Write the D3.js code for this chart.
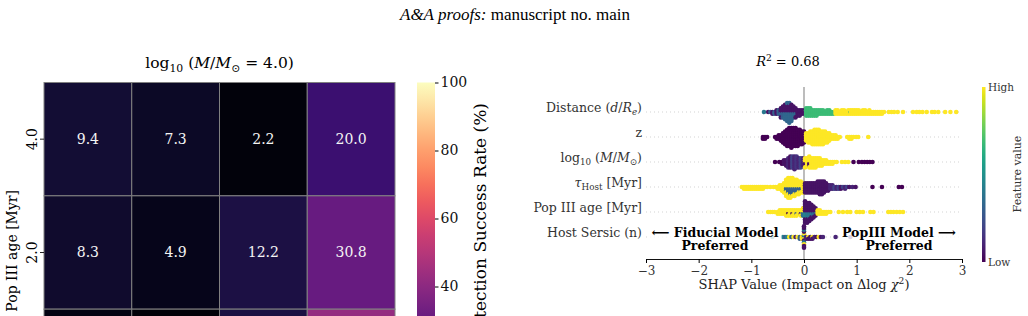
<!DOCTYPE html>
<html><head><meta charset="utf-8">
<script src="https://cdn.jsdelivr.net/npm/d3@7"></script>
<style>
body{margin:0;background:#fff}
svg{display:block;font-family:"DejaVu Serif",serif}
</style></head><body>
<svg width="1028" height="316"></svg>
<script>
// ---- left panel: detection success rate (%) ----
const popAges = ["4.0", "2.0", "1.0"];
const massCols = [0, 1, 2, 3];
const successRate = [
  [9.4, 7.3, 2.2, 20.0],
  [8.3, 4.9, 12.2, 30.8],
  [3.5, 1.2, 11.8, 42.0]
];
const rateTicks = [40, 60, 80, 100];

// ---- right panel: shap beeswarm, [shap value, n points, feature value 0..1] ----
const distPts = [
  [-0.76,1,0.4],[-0.68,1,0.05],[-0.64,1,0.3],[-0.60,2,0.05],[-0.56,2,0.3],[-0.52,3,0.05],[-0.48,3,0.3],
  [-0.44,4,0.05],[-0.44,2,0.3],[-0.40,4,0.05],[-0.40,3,0.3],[-0.36,5,0.05],[-0.36,4,0.33],
  [-0.32,5,0.05],[-0.32,6,0.33],[-0.28,5,0.05],[-0.28,7,0.33],[-0.24,5,0.05],[-0.24,5,0.33],
  [-0.20,4,0.05],[-0.20,3,0.33],[-0.16,4,0.05],[-0.16,2,0.33],[-0.12,4,0.05],[-0.08,4,0.05],
  [-0.04,3,0.05],[0.0,3,0.05],
  [0.04,5,0.68],[0.08,5,0.68],[0.12,5,0.68],[0.16,4,0.68],[0.20,4,0.68],[0.24,4,0.68],[0.28,3,0.68],
  [0.32,3,0.68],[0.36,3,0.68],[0.40,2,0.68],[0.44,3,0.68],[0.48,3,0.68],[0.52,2,0.68],[0.56,2,0.68],
  [0.60,3,1],[0.64,3,1],[0.68,2,1],[0.72,3,1],[0.76,3,1],[0.80,2,1],[0.84,3,1],[0.88,1,0.55],[0.88,2,1],
  [0.92,3,1],[0.96,3,1],[1.00,3,1],[1.04,3,1],[1.08,2,1],[1.12,3,1],[1.16,3,1],[1.20,2,1],[1.24,3,1],
  [1.28,2,1],[1.32,2,1],[1.36,2,1],[1.40,2,1],[1.44,2,1],[1.48,2,1],[1.52,1,1],
  [1.61,1,1],[1.66,1,1],[1.71,1,1],[1.78,1,1],[1.88,1,1],[2.07,1,1],[2.14,1,1],[2.19,1,1],[2.25,1,1],
  [2.33,1,1],[2.43,1,1],[2.48,1,1],[2.55,1,1],[2.68,1,1],[2.78,1,1],[2.89,1,1]
];
const zPts = [
  [-0.78,2,0],[-0.74,2,0],[-0.70,1,0],
  [-0.55,1,0],[-0.52,2,0],[-0.48,3,0],[-0.44,4,0],[-0.40,6,0],[-0.36,8,0],[-0.32,10,0],[-0.28,11,0],
  [-0.24,12,0],[-0.20,11,0],[-0.16,11,0],[-0.12,10,0],[-0.08,9,0],[-0.04,8,0],[0.0,7,0],
  [0.04,5,1],[0.08,6,1],[0.12,7,1],[0.16,8,1],[0.20,9,1],[0.24,9,1],[0.28,9,1],[0.32,8,1],[0.36,8,1],
  [0.40,7,1],[0.44,6,1],[0.48,5,1],[0.52,3,1],[0.56,3,1],[0.60,3,1],[0.64,2,1],[0.68,1,1],
  [0.82,1,1],[0.86,2,1],[0.90,2,1],[0.94,1,1],[0.99,1,1],[1.03,1,1],[1.22,1,1]
];
const massPts = [
  [-0.55,1,0],[-0.47,1,0],[-0.42,2,0],[-0.38,3,0.05],[-0.34,4,0.05],[-0.30,6,0.1],[-0.26,7,0.05],
  [-0.22,7,0.2],[-0.18,8,0.1],[-0.14,7,0.15],[-0.10,6,0.1],[-0.06,6,0.2],[-0.02,5,0.1],
  [0.02,4,1],[0.02,2,0.05],[0.06,5,1],[0.10,5,1],[0.10,2,0.05],[0.14,6,1],[0.18,6,1],[0.22,6,1],
  [0.26,5,1],[0.30,5,1],[0.34,4,1],[0.38,3,1],[0.42,3,1],[0.46,2,1],[0.50,2,1],[0.54,2,1],[0.58,1,1],
  [0.62,1,1],[0.72,1,1],[0.78,1,1],[0.84,1,1],
  [0.94,1,0],[1.04,1,0],[1.10,1,0],[1.15,1,0],[1.20,1,0],[1.25,1,0],[1.30,1,0]
];
const tauPts = [
  [-1.18,1,1],[-1.14,2,1],[-1.10,2,1],[-1.06,2,1],[-1.02,2,1],[-0.98,2,1],[-0.94,2,1],[-0.90,2,1],
  [-0.86,2,1],[-0.82,2,1],[-0.78,2,1],[-0.74,1,1],[-0.70,1,1],[-0.64,1,1],[-0.58,1,1],[-0.54,1,1],
  [-0.50,2,1],[-0.46,3,1],[-0.42,4,1],[-0.38,6,1],[-0.34,8,1],[-0.34,2,0.3],[-0.30,9,1],[-0.30,3,0.3],
  [-0.26,8,1],[-0.26,4,0.3],[-0.22,7,1],[-0.22,4,0.3],[-0.18,7,1],[-0.18,3,0.3],[-0.14,6,1],
  [-0.14,3,0.3],[-0.10,6,1],[-0.10,2,0.3],[-0.06,5,1],[-0.06,2,0.3],[-0.02,6,1],
  [0.02,6,0.05],[0.06,6,0.05],[0.10,6,0.05],[0.14,6,0.05],[0.18,6,0.05],[0.22,6,0.05],[0.26,7,0.05],
  [0.30,8,0.05],[0.34,8,0.05],[0.38,7,0.05],[0.42,5,0.05],[0.46,4,0.05],[0.50,3,0.1],[0.54,3,0.1],
  [0.58,2,0.2],[0.62,2,0.1],[0.66,2,0.2],[0.70,2,0.05],[0.74,1,0.2],[0.78,2,0.1],[0.82,1,0.2],
  [0.86,1,0.05],[0.92,1,0.1],[0.98,1,0.05],
  [1.30,1,0],[1.48,1,0],[1.80,1,0],[1.86,1,0]
];
const agePts = [
  [-0.68,1,1],[-0.64,1,1],[-0.60,1,1],[-0.56,1,1],[-0.50,2,1],[-0.46,3,1],[-0.42,3,1],[-0.38,3,1],
  [-0.34,4,1],[-0.30,3,1],[-0.30,1,0],[-0.26,4,1],[-0.22,3,1],[-0.22,1,0.05],[-0.18,4,1],[-0.14,3,1],
  [-0.14,1,0.3],[-0.10,3,1],[-0.06,3,1],[-0.06,1,0.1],[-0.02,3,1],[-0.02,2,0.35],
  [0.02,10,0.05],[0.02,3,0.45],[0.06,9,0.05],[0.06,3,0.4],[0.10,8,0.05],[0.10,3,0.4],[0.14,7,0.05],
  [0.14,2,0.4],[0.18,5,0.05],[0.18,2,0.35],[0.22,4,0.05],[0.22,1,0.4],
  [0.26,3,1],[0.30,3,1],[0.34,2,1],[0.38,2,1],[0.42,2,1],[0.46,1,1],[0.50,1,1],
  [0.66,1,1],[0.74,1,1],[0.82,1,1],[0.88,1,1],[1.00,1,1],[1.06,1,1],[1.12,1,1],[1.26,1,1],[1.32,1,1],
  [1.60,1,1],[1.65,1,1],[1.70,1,1],[1.76,1,1],[1.82,1,1],[1.88,1,1]
];
const sersicPts = [
  [-0.83,1,1],[-0.60,1,0.45],
  [-0.40,1,0.45],[-0.36,1,0.3],[-0.32,1,0.45],[-0.28,1,1],[-0.24,1,0.3],[-0.20,1,1],[-0.16,1,0.1],
  [-0.12,1,1],[-0.08,2,0.3],[-0.04,2,1],
  [0.0,7,0.05],[0.0,3,1],[0.0,3,0.4],
  [0.04,2,0.1],[0.08,1,1],[0.08,1,0.05],[0.12,2,0.05],[0.16,1,1],[0.16,1,0.05],[0.20,1,0.1],
  [0.24,1,0.05],[0.28,1,1],[0.32,1,0.05],[0.36,1,0.1],
  [0.60,1,0.1],[0.88,1,0.1]
];
const shapTicks = [-3, -2, -1, 0, 1, 2, 3];

const features = [
  {key: "dist", pts: distPts, label: [["Distance ("], ["d", "i"], ["/"], ["R", "i"], ["e", "isub"], [")"]]},
  {key: "z", pts: zPts, label: [["z"]]},
  {key: "mass", pts: massPts, label: [["log"], ["10", "sub"], [" ("], ["M", "i"], ["/"], ["M", "i"], ["⊙", "sub"], [")"]]},
  {key: "tau", pts: tauPts, label: [["τ", "i"], ["Host", "sub"], [" [Myr]"]]},
  {key: "age", pts: agePts, label: [["Pop III age [Myr]"]]},
  {key: "sersic", pts: sersicPts, label: [["Host Sersic (n)"]]}
];

const W = 1028, H = 316;
const svg = d3.select("svg");
const defs = svg.append("defs");

// text with sub/superscripts and italics
let rich = (sel, parts, size) => {
  let shift = 0;
  parts.forEach(([t, s]) => {
    s = s || "";
    let target = 0;
    if (s.includes("sub")) target = size * 0.25;
    if (s.includes("sup")) target = -size * 0.4;
    sel.append("tspan")
      .attr("dy", target - shift)
      .style("font-size", (target ? size * 0.7 : size) + "px")
      .style("font-style", s.includes("i") ? "italic" : "normal")
      .text(t);
    shift = target;
  });
};

// header
let head = svg.append("text").attr("x", 515).attr("y", 20).attr("text-anchor", "middle")
  .style("font-family", "'Liberation Serif'").style("font-size", "17px");
head.append("tspan").style("font-style", "italic").text("A&A proofs:");
head.append("tspan").text(" manuscript no. main");

// ---------- heatmap ----------
const hx = d3.scaleBand().domain(massCols).range([44, 395]);
const hy = d3.scaleBand().domain(popAges).range([82.5, 422.5]);
const color = d3.scaleSequential(d3.interpolateMagma).domain([0, 100]);

let title = svg.append("text").attr("x", 219.5).attr("y", 68).attr("text-anchor", "middle");
rich(title, [["log"], ["10", "sub"], [" ("], ["M", "i"], ["/"], ["M", "i"], ["⊙", "sub"], [" = 4.0)"]], 15.5);

popAges.forEach((age, r) => {
  let cy = hy(age) + hy.bandwidth() / 2;
  massCols.forEach((c) => {
    let v = successRate[r][c];
    svg.append("rect")
      .attr("x", hx(c)).attr("y", hy(age))
      .attr("width", hx.bandwidth()).attr("height", hy.bandwidth())
      .attr("fill", color(v)).attr("stroke", "#808080").attr("stroke-width", 1);
    // the figure is cropped at the bottom: only annotate cells whose centre is on the page
    if (cy < H) {
      svg.append("text")
        .attr("x", hx(c) + hx.bandwidth() / 2).attr("y", cy)
        .attr("dy", "0.35em").attr("text-anchor", "middle")
        .attr("fill", "#f4f4f4").style("font-size", "14px")
        .text(v.toFixed(1));
    }
  });
  if (cy < H) {
    svg.append("line").attr("x1", 40).attr("x2", 44).attr("y1", cy).attr("y2", cy).attr("stroke", "#222");
    svg.append("text").attr("transform", `translate(37,${cy}) rotate(-90)`)
      .attr("text-anchor", "middle").style("font-size", "14px").text(age);
  }
});

svg.append("text").attr("transform", "translate(17,190) rotate(-90)")
  .attr("text-anchor", "end").style("font-size", "14px").text("Pop III age [Myr]");

// colorbar
const cbY = d3.scaleLinear().domain([0, 100]).range([422.5, 82.5]);
let grad = defs.append("linearGradient").attr("id", "magma").attr("x1", 0).attr("x2", 0).attr("y1", 1).attr("y2", 0);
d3.range(0, 1.001, 0.05).forEach((t) => {
  grad.append("stop").attr("offset", t).attr("stop-color", d3.interpolateMagma(t));
});
svg.append("rect").attr("x", 417).attr("y", cbY(100)).attr("width", 18)
  .attr("height", cbY(0) - cbY(100)).attr("fill", "url(#magma)");
svg.append("g").attr("transform", "translate(435,0)")
  .call(d3.axisRight(cbY).tickValues(rateTicks).tickSize(3.5).tickPadding(2))
  .call((g) => g.select(".domain").remove())
  .call((g) => g.selectAll("text").style("font-family", "DejaVu Serif").style("font-size", "14px").attr("fill", "#111"));
svg.append("text").attr("transform", "translate(486,103) rotate(-90)")
  .attr("text-anchor", "end").style("font-size", "17px").text("Detection Success Rate (%)");

// ---------- shap beeswarm ----------
const x = d3.scaleLinear().domain([-3, 3]).range([646, 962]);
const y = d3.scalePoint().domain(features.map((f) => f.key)).range([112, 237]);
const viridis = d3.interpolateViridis;

let rt = svg.append("text").attr("x", 788).attr("y", 66).attr("text-anchor", "middle");
rich(rt, [["R", "i"], ["2", "sup"], [" = 0.68"]], 13);

features.forEach((f) => {
  svg.append("line").attr("x1", 646).attr("x2", 962).attr("y1", y(f.key)).attr("y2", y(f.key))
    .attr("stroke", "#c8c8c8").attr("stroke-width", 0.8).attr("stroke-dasharray", "1,3");
  let lab = svg.append("text").attr("x", 642).attr("y", y(f.key)).attr("dy", "0.35em")
    .attr("text-anchor", "end").attr("fill", "#333");
  rich(lab, f.label, 12.5);
});

svg.append("line").attr("x1", x(0)).attr("x2", x(0)).attr("y1", 87).attr("y2", 259)
  .attr("stroke", "#999").attr("stroke-width", 1.3);

// swarm layout: points sharing a shap value are stacked around the row line
const step = 1.8;
features.forEach((f) => {
  let dots = [];
  d3.groups(f.pts, (d) => d[0]).forEach(([s, entries]) => {
    let left = entries.map((e) => e[1]);
    let k = 0;
    while (d3.sum(left) > 0) {
      entries.forEach((e, i) => {
        if (left[i] > 0) {
          left[i]--;
          let off = Math.ceil(k / 2) * (k % 2 ? 1 : -1) * step;
          dots.push({s: s, c: e[2], off: off});
          k++;
        }
      });
    }
  });
  svg.append("g").selectAll("circle").data(dots).enter().append("circle")
    .attr("cx", (d) => x(d.s)).attr("cy", (d) => y(f.key) + d.off)
    .attr("r", 2.3).attr("fill", (d) => viridis(d.c));
});

// axis
let ax = svg.append("g").attr("transform", "translate(0,259)")
  .call(d3.axisBottom(x).tickValues(shapTicks).tickSize(4).tickSizeOuter(0)
    .tickFormat((d) => (d < 0 ? "\u2212" + Math.abs(d) : d)));
ax.select(".domain").attr("stroke", "#111");
ax.selectAll("text").style("font-family", "DejaVu Serif").style("font-size", "12px").attr("fill", "#333");
let xl = svg.append("text").attr("x", 804).attr("y", 289).attr("text-anchor", "middle").attr("fill", "#222");
rich(xl, [["SHAP Value (Impact on Δlog "], ["χ", "i"], ["2", "sup"], [")"]], 13);

// annotations with translucent white box
[[715, ["\u27f5 Fiducial Model", "Preferred"]], [899, ["PopIII Model \u27f6", "Preferred"]]].forEach(([cx, lines]) => {
  let g = svg.append("g");
  let box = g.append("rect").attr("fill", "#fff").attr("opacity", 0.8);
  let t = g.append("text").attr("text-anchor", "middle").style("font-weight", "bold").style("font-size", "12.5px");
  lines.forEach((l, i) => t.append("tspan").attr("x", cx).attr("y", 236.5 + i * 13.5).text(l));
  let b = t.node().getBBox();
  box.attr("x", b.x - 3).attr("y", b.y - 1).attr("width", b.width + 6).attr("height", b.height + 2);
});

// feature value colorbar
let vgrad = defs.append("linearGradient").attr("id", "viridis").attr("x1", 0).attr("x2", 0).attr("y1", 1).attr("y2", 0);
d3.range(0, 1.001, 0.05).forEach((t) => vgrad.append("stop").attr("offset", t).attr("stop-color", viridis(t)));
svg.append("rect").attr("x", 982).attr("y", 87).attr("width", 3.5).attr("height", 175).attr("fill", "url(#viridis)");
svg.append("text").attr("x", 988).attr("y", 87).attr("dy", "0.35em").style("font-size", "10.5px").attr("fill", "#333").text("High");
svg.append("text").attr("x", 988).attr("y", 262).attr("dy", "0.35em").style("font-size", "10.5px").attr("fill", "#333").text("Low");
svg.append("text").attr("transform", "translate(1021,174) rotate(-90)").attr("text-anchor", "middle")
  .style("font-size", "11px").attr("fill", "#333").text("Feature value");
</script>
</body></html>
